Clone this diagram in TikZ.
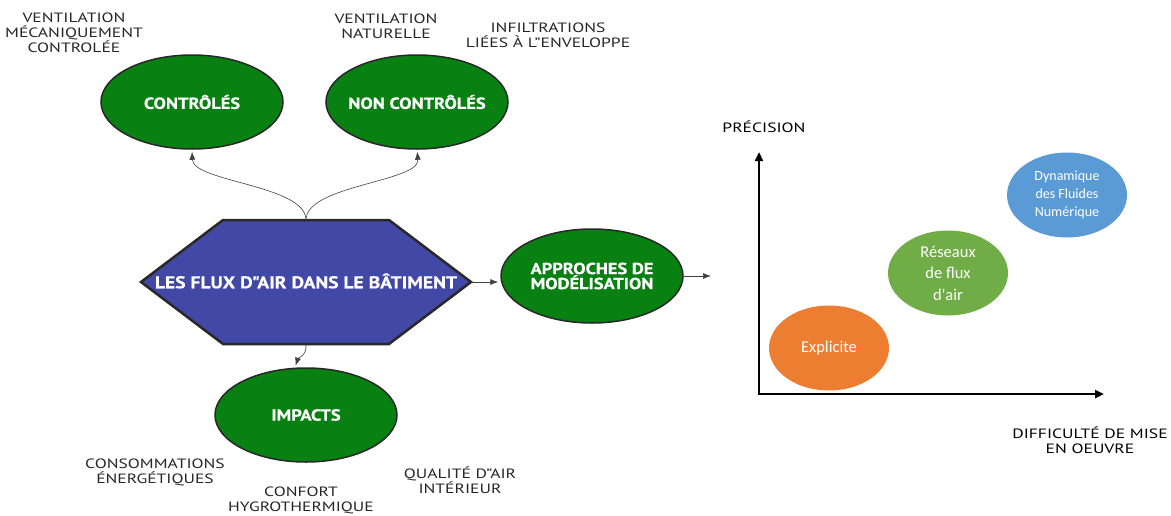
\documentclass[tikz,border=0pt]{standalone}
\usepackage{fontspec}
\setmainfont{PT Sans}[FakeStretch=1.3]
\newfontfamily\labelfont{PT Sans}[FakeStretch=1.15,FakeBold=0.4]
\newfontfamily\chartfont{Carlito}
\usetikzlibrary{arrows.meta,shapes.geometric}
\definecolor{darkgreen}{RGB}{8,128,18}
\definecolor{hexblue}{RGB}{66,72,166}
\definecolor{officeorange}{RGB}{237,125,49}
\definecolor{officegreen}{RGB}{112,173,71}
\definecolor{officeblue}{RGB}{91,155,213}
\definecolor{edgegray}{RGB}{40,40,40}

\begin{document}
\begin{tikzpicture}[
        x=1pt, y=-1pt,
        greenn/.style={ellipse, draw=edgegray, line width=1.5pt, fill=darkgreen, minimum width=182pt, minimum height=94pt, inner xsep=-8pt, inner ysep=0pt, text=white, align=center, font=\labelfont\bfseries\fontsize{16}{15}\selectfont},
        note/.style={align=center, text=black!85, font=\fontsize{13.5}{15}\selectfont},
        chartn/.style={ellipse, minimum width=120pt, minimum height=85pt, inner sep=0pt, text=white, align=center, font=\chartfont\fontsize{16.5}{21.5}\selectfont},
        link/.style={draw=black!75, line width=0.6pt, shorten >=2pt, -{Latex[length=8pt,width=6pt]}},
        axis/.style={line width=2.4pt, {Triangle[length=9pt,width=8pt]}-{Triangle[length=9pt,width=8pt]}},
    ]
    \useasboundingbox (0,0) rectangle (1171,515);
    % hexagon
    \coordinate (hexn) at (306,220);
    \coordinate (hexs) at (306,344);
    \coordinate (hexe) at (471,282);
    \coordinate (hexw) at (141,282);
    \draw[fill=hexblue, draw=edgegray, line width=2.5pt, line join=miter]
        (223,220) -- (389,220) -- (hexe) -- (389,344) -- (223,344) -- (hexw) -- cycle;
    \node[text=white, font=\labelfont\bfseries\fontsize{17}{15}\selectfont] (flux) at (306,281) {LES FLUX D"AIR DANS LE BÂTIMENT};

    \node[greenn] (ctrl) at (192,102) {CONTRÔLÉS};
    \node[greenn] (nonctrl) at (417,102) {NON CONTRÔLÉS};
    \node[greenn] (approches) at (592,276) {APPROCHES DE\\MODÉLISATION};
    \node[greenn] (impacts) at (306,415) {IMPACTS};

    \node[note] (vmc) at (74,33) {VENTILATION\\MÉCANIQUEMENT\\CONTROLÉE};
    \node[note] (vnat) at (386,26) {VENTILATION\\NATURELLE};
    \node[note] (infil) at (548,35) {INFILTRATIONS\\LIÉES À L"ENVELOPPE};
    \node[note] (conso) at (155,472) {CONSOMMATIONS\\ÉNERGÉTIQUES};
    \node[note] (confort) at (301,500) {CONFORT\\HYGROTHERMIQUE};
    \node[note] (qualite) at (460,480) {QUALITÉ D"AIR\\INTÉRIEUR};

    \draw[link] (hexn) .. controls (306,185) and (193,182) .. (ctrl.south);
    \draw[link] (hexn) .. controls (306,185) and (420,182) .. (nonctrl.south);
    \draw[link] (hexs) .. controls (307,356) and (298,358) .. (impacts.103);
    \draw[link] (hexe) -- (hexe -| approches.west);
    \coordinate (chartin) at (713,276);
    \draw[link] (approches.east) -- (chartin);

    % chart
    \coordinate (origin) at (759,394);
    \coordinate (ytip) at (759,152);
    \coordinate (xtip) at (1104,394);
    \draw[axis] (ytip) -- (origin) -- (xtip);
    \node[note, text=black] (precision) at (764,127) {PRÉCISION};
    \node[note, text=black] (difficulte) at (1090,440) {DIFFICULTÉ DE MISE\\EN OEUVRE};
    \node[chartn, fill=officeorange] (explicite) at (829,348) {Explicite};
    \node[chartn, fill=officegreen] (reseaux) at (948,273) {Réseaux\\de flux\\d'air};
    \node[chartn, fill=officeblue, font=\chartfont\fontsize{14}{18}\selectfont] (cfd) at (1067,195) {Dynamique\\des Fluides\\Numérique};
\end{tikzpicture}
\end{document}
